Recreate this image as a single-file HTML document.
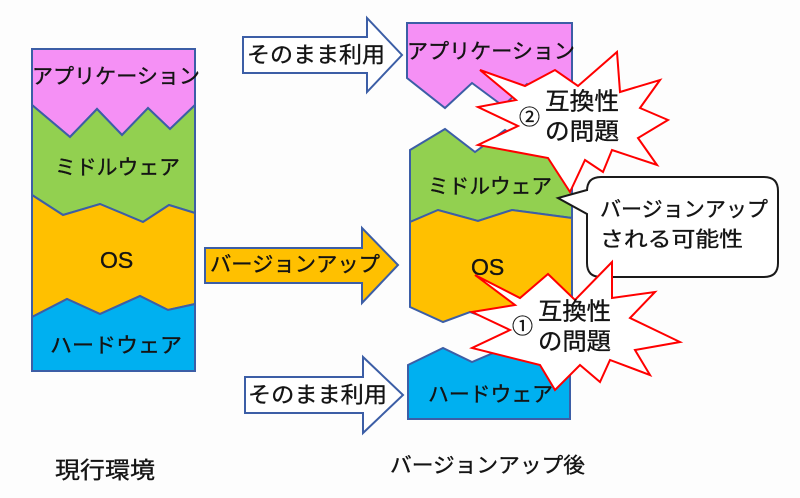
<!DOCTYPE html>
<html><head><meta charset="utf-8">
<style>
html,body{margin:0;padding:0;background:#fff;}
svg{display:block;}
text{font-family:"Liberation Sans","Noto Sans CJK JP",sans-serif;fill:#141414;stroke:#141414;stroke-width:0.35;}
</style></head><body>
<svg width="800" height="498" viewBox="0 0 800 498" xmlns="http://www.w3.org/2000/svg">
<rect width="800" height="498" fill="#fdfdfd"/>

<!-- left stack -->
<g stroke="#3c5ea6" stroke-width="2" stroke-linejoin="miter">
<polygon fill="#f590f5" points="32,49 195,49 195,105 170,129 148,108 122,135 97,109 70,137 32,105"/>
<polygon fill="#92d050" points="32,105 70,137 97,109 122,135 148,108 170,129 195,105 195,213 169,205 143,222 100,204 63,215 32,195"/>
<polygon fill="#ffc000" points="32,195 63,215 100,204 143,222 169,205 195,213 195,304 168,310 140,296 100,314 67,299 32,317"/>
<polygon fill="#00b0f0" points="32,317 67,299 100,314 140,296 168,310 195,304 195,371 32,371"/>
</g>
<text x="32" y="77" font-size="21" dominant-baseline="central" textLength="168" lengthAdjust="spacingAndGlyphs">アプリケーション</text>
<text x="55" y="168" font-size="21" dominant-baseline="central" textLength="125" lengthAdjust="spacingAndGlyphs">ミドルウェア</text>
<text x="100" y="260" font-size="23" dominant-baseline="central">OS</text>
<text x="50" y="346" font-size="21" dominant-baseline="central" textLength="132" lengthAdjust="spacingAndGlyphs">ハードウェア</text>

<!-- arrows -->
<g stroke="#3c5ea6" stroke-width="2" stroke-linejoin="miter">
<polygon fill="#ffffff" points="243,37 367,37 367,18 402,55 367,92 367,73 243,73"/>
<polygon fill="#ffc000" points="205,248 362,248 362,228 398,265 362,303 362,283 205,283"/>
<polygon fill="#ffffff" points="245,377 363,377 363,357 403,395 363,433 363,413 245,413"/>
</g>
<text x="247" y="55" font-size="22" dominant-baseline="central" textLength="138" lengthAdjust="spacingAndGlyphs">そのまま利用</text>
<text x="210" y="265" font-size="21" dominant-baseline="central" textLength="170" lengthAdjust="spacingAndGlyphs">バージョンアップ</text>
<text x="248" y="395" font-size="22" dominant-baseline="central" textLength="139" lengthAdjust="spacingAndGlyphs">そのまま利用</text>

<!-- right stack -->
<g stroke="#3c5ea6" stroke-width="2" stroke-linejoin="miter">
<polygon fill="#f590f5" points="407,23 572,23 572,112 527,84 503,106 472,83 445,108 407,78"/>
<polygon fill="#92d050" points="410,150 445,129 475,152 505,130 535,150 572,130 572,218 512,210 478,221 438,210 410,222"/>
<polygon fill="#ffc000" points="410,222 438,210 478,221 512,210 572,218 572,320 540,310 505,324 470,312 443,322 410,307"/>
<polygon fill="#00b0f0" points="408,365 443,348 472,362 505,348 535,362 570,350 570,419 408,419"/>
</g>
<text x="407" y="52" font-size="21" dominant-baseline="central" textLength="168" lengthAdjust="spacingAndGlyphs">アプリケーション</text>
<text x="428" y="187" font-size="21" dominant-baseline="central" textLength="124" lengthAdjust="spacingAndGlyphs">ミドルウェア</text>
<text x="471" y="267" font-size="23" dominant-baseline="central">OS</text>
<text x="428" y="395" font-size="21" dominant-baseline="central" textLength="125" lengthAdjust="spacingAndGlyphs">ハードウェア</text>

<!-- starburst 2 -->
<polygon fill="#ffffff" stroke="#ff0000" stroke-width="2" stroke-linejoin="miter"
 points="480,70 525,86 555,70 578,86 617,52 620,92 660,80 640,108 668,120 638,138 657,165 612,150 603,172 585,160 570,192 548,158 478,145 518,126 478,107 516,100"/>
<text x="519" y="118" font-size="21" dominant-baseline="central">②</text>
<text x="545" y="102" font-size="24" dominant-baseline="central" textLength="74" lengthAdjust="spacingAndGlyphs">互換性</text>
<text x="545" y="132" font-size="24" dominant-baseline="central" textLength="74" lengthAdjust="spacingAndGlyphs">の問題</text>

<!-- callout -->
<path d="M601,177 L764,177 Q778,177 778,191 L778,263 Q778,277 764,277 L601,277 Q587,277 587,263 L587,214 L558,198 L587,190 L587,191 Q587,177 601,177 Z" fill="#ffffff" stroke="#1a1a1a" stroke-width="2"/>
<text x="600" y="210" font-size="21" dominant-baseline="central" textLength="168" lengthAdjust="spacingAndGlyphs">バージョンアップ</text>
<text x="600" y="240" font-size="21" dominant-baseline="central" textLength="143" lengthAdjust="spacingAndGlyphs">される可能性</text>

<!-- starburst 1 -->
<polygon fill="#ffffff" stroke="#ff0000" stroke-width="2" stroke-linejoin="miter"
 points="475,275 520,298 548,274 575,300 612,262 612,298 655,292 630,318 680,342 635,350 650,375 610,360 600,382 580,365 555,390 540,365 472,348 510,330 472,312 515,305"/>
<text x="512" y="327" font-size="21" dominant-baseline="central">①</text>
<text x="538" y="312" font-size="24" dominant-baseline="central" textLength="73" lengthAdjust="spacingAndGlyphs">互換性</text>
<text x="538" y="342" font-size="24" dominant-baseline="central" textLength="73" lengthAdjust="spacingAndGlyphs">の問題</text>

<!-- bottom labels -->
<text x="55" y="470" font-size="23" dominant-baseline="central" textLength="100" lengthAdjust="spacingAndGlyphs">現行環境</text>
<text x="390" y="466" font-size="21" dominant-baseline="central" textLength="195" lengthAdjust="spacingAndGlyphs">バージョンアップ後</text>
</svg>
</body></html>
